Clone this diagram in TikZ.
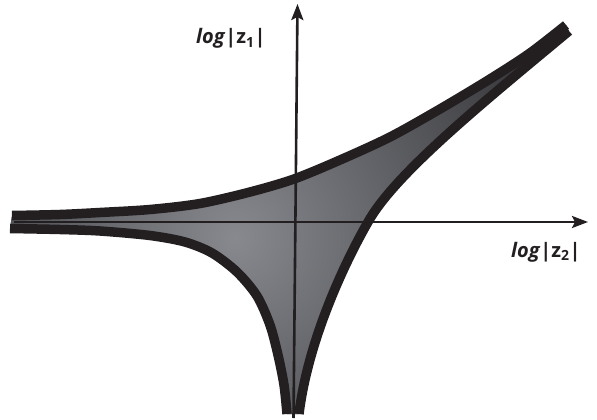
\documentclass[tikz,border=0pt]{standalone}
\usepackage{fontspec}
\usepackage{tikz}
\usepackage{xcolor}
\usetikzlibrary{arrows.meta}
\setmainfont{Open Sans}
\definecolor{amoebaink}{RGB}{35,31,32}
\definecolor{amoebadark}{RGB}{50,50,54}
\definecolor{amoebalight}{RGB}{135,137,142}

\begin{document}
\begin{tikzpicture}[x=1pt, y=-1pt,
		rim/.style={draw=amoebaink, line width=9.5pt, line cap=butt, line join=round},
		axis/.style={draw=amoebaink, line width=2.6pt, -{Stealth[length=16pt, width=12pt, inset=3pt]}},
		axlabel/.style={anchor=base west, inner sep=0pt, text=amoebaink,
			font=\fontsize{20}{24}\selectfont\bfseries}
	]
		\useasboundingbox (0,0) rectangle (597,420);
		\path[fill=amoebadark, path picture={
				\shade[inner color=amoebalight, outer color=amoebadark] (235,238) circle (360);}]
			plot[smooth] coordinates {(12,215.5) (60,214.5) (100,212.5) (150,209.5) (200,203.5) (250,192)
				(294,179) (340,160) (390,137) (440,109) (490,79) (530,53) (566,25)}
			-- (569,31) .. controls (480,105) and (395,174) .. (368,222)
			.. controls (345,262) and (308,340) .. (299,414)
			-- plot[smooth] coordinates {(287,414) (284,385) (278,355) (270,325) (257,296) (237,272) (212,253)
				(185,242) (150,235.5) (100,231) (60,229.5) (10,228.5)}
			-- cycle;
		\coordinate (xfrom) at (14,222);
		\coordinate (xto) at (588,222);
		\coordinate (yfrom) at (293.5,418);
		\coordinate (yto) at (297.5,4);
		\draw[axis] (xfrom) -- (xto);
		\draw[axis] (yfrom) -- (yto);
		\draw[rim] plot[smooth] coordinates {(12,215.5) (60,214.5) (100,212.5) (150,209.5) (200,203.5) (250,192)
				(294,179) (340,160) (390,137) (440,109) (490,79) (530,53) (566,25)};
		\draw[rim] (569,31) .. controls (480,105) and (395,174) .. (368,222)
			.. controls (345,262) and (308,340) .. (299,414);
		\draw[rim] plot[smooth] coordinates {(287,414) (284,385) (278,355) (270,325) (257,296) (237,272) (212,253)
				(185,242) (150,235.5) (100,231) (60,229.5) (10,228.5)};
		\node[axlabel] (ylabel) at (196,44) {\textit{log}|z\textsubscript{1}|};
		\node[axlabel] (xlabel) at (511,257) {\textit{log}|z\textsubscript{2}|};
	\end{tikzpicture}
\end{document}
